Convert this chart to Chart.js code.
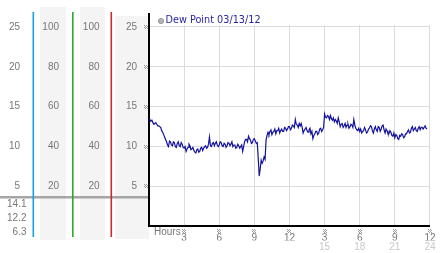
<!DOCTYPE html>
<html>
<head>
<meta charset="utf-8">
<script src="https://cdn.jsdelivr.net/npm/chart.js@4/dist/chart.umd.min.js"></script>
<style>
html, body { margin: 0; padding: 0; background: #fff; }
#wrap { width: 442px; height: 253px; }
</style>
</head>
<body>
<div id="wrap"><canvas id="dewChart" width="442" height="253"></canvas></div>
<script>
const seriesName = 'Dew Point 03/13/12';
const stepHours = 1 / 12; // one reading every 5 minutes
const dewPoint = [
    13.5, 13.3, 13.2, 13.3, 13.0, 12.8, 12.9, 13.0, 12.8, 12.6, 12.6, 12.5,
    12.4, 12.0, 11.8, 11.5, 11.2, 10.9, 10.6, 10.2, 10.0, 10.7, 10.6, 10.2,
    10.1, 10.6, 10.5, 10.0, 9.9, 10.4, 10.6, 10.1, 10.0, 10.5, 10.3, 9.9,
    9.8, 10.0, 9.4, 9.7, 9.9, 10.3, 10.1, 9.6, 9.7, 9.9, 9.5, 9.3,
    9.2, 9.6, 9.7, 9.3, 9.4, 9.8, 9.9, 9.5, 9.8, 10.0, 10.1, 9.8,
    9.9, 10.3, 11.2, 10.1, 10.0, 10.4, 10.5, 10.1, 10.4, 10.6, 10.2, 10.0,
    10.2, 10.6, 10.5, 10.1, 10.0, 10.4, 10.3, 9.9, 10.1, 10.5, 10.4, 10.1,
    10.3, 10.6, 10.0, 10.2, 10.2, 9.8, 9.9, 10.3, 10.1, 9.8, 10.0, 10.2,
    9.4, 10.0, 10.6, 10.9, 10.9, 10.6, 11.3, 11.0, 10.8, 10.4, 10.5, 10.9,
    11.0, 10.7, 10.4, 10.5, 8.5, 6.3, 7.2, 8.3, 7.9, 8.2, 8.7, 8.4,
    10.8, 11.4, 11.8, 11.5, 11.9, 12.1, 11.5, 11.8, 11.9, 12.2, 11.6, 12.0,
    12.0, 12.3, 11.7, 12.0, 12.2, 11.9, 11.9, 12.4, 12.3, 12.0, 12.2, 12.5,
    12.5, 12.1, 12.3, 12.7, 12.6, 12.4, 13.4, 12.8, 12.7, 12.4, 12.9, 12.6,
    12.9, 12.4, 11.7, 12.0, 12.2, 12.4, 12.0, 11.8, 12.1, 12.3, 11.6, 11.9,
    11.0, 11.4, 11.6, 11.9, 11.9, 11.5, 11.7, 12.2, 12.3, 11.9, 12.1, 12.4,
    14.1, 13.7, 13.6, 13.9, 13.8, 13.4, 13.9, 13.5, 13.3, 13.6, 13.1, 13.4,
    13.2, 12.9, 13.6, 13.1, 12.5, 12.8, 12.9, 12.4, 12.6, 12.9, 12.4, 12.7,
    12.8, 12.3, 12.5, 12.8, 12.7, 12.4, 13.4, 12.7, 12.3, 12.1, 12.0, 12.3,
    11.9, 12.2, 11.7, 11.9, 12.0, 12.4, 12.1, 11.7, 11.8, 12.2, 12.3, 12.6,
    12.5, 12.0, 11.7, 12.2, 12.5, 12.1, 11.9, 12.5, 12.4, 11.9, 12.2, 12.6,
    12.7, 12.1, 11.7, 12.2, 12.0, 11.6, 11.6, 12.0, 11.8, 11.4, 11.3, 11.7,
    11.1, 11.5, 11.4, 11.0, 10.9, 11.4, 11.3, 11.6, 11.5, 11.1, 11.2, 11.6,
    11.6, 11.9, 12.1, 11.7, 11.8, 12.3, 12.5, 12.0, 12.2, 12.4, 12.0, 11.9,
    12.3, 12.5, 12.1, 12.4, 12.4, 12.2, 12.4, 12.6, 12.3, 12.2
];
const hourTicks = [3, 6, 9, 12, 15, 18, 21, 24];
const dewTicks = [5, 10, 15, 20, 25];
const humidityTicks = [20, 40, 60, 80, 100];
const summaryLabels = ['14.1', '12.2', '6.3'];

const tickFont = { family: 'Liberation Sans', size: 10 };
const tickColor = '#777777';

const points = dewPoint.map((v, i) => ({ x: i * stepHours, y: v }));

function fixedTicks(list) {
    return scale => { scale.ticks = list.map(v => ({ value: v })); };
}

// side column (extra left axis) with only labels
function sideAxis(weight, width, padding, list, min, max) {
    return {
        position: 'left',
        weight: weight,
        min: min,
        max: max,
        afterBuildTicks: fixedTicks(list),
        afterFit: s => { s.width = width; },
        ticks: { padding: padding, color: tickColor, font: tickFont, callback: v => String(v) },
        grid: { display: false, drawTicks: false },
        border: { display: false }
    };
}

// tiny dotted tick marker
function marker(ctx, cx, cy) {
    const x = Math.round(cx) - 2, y = Math.round(cy) - 2;
    [[0, 0], [2, 0], [1, 1], [3, 1], [0, 2], [2, 2], [1, 3], [3, 3]].forEach(([dx, dy]) => {
        ctx.fillRect(x + dx, y + dy, 1, 1);
    });
}

// left panel, markers and legend
const panelPlugin = {
    id: 'panel',
    beforeDraw(chart) {
        const ctx = chart.ctx;
        ctx.save();
        ctx.fillStyle = '#f4f4f4';
        ctx.fillRect(40, 7, 26, 233);
        ctx.fillRect(80, 7, 25, 233);
        ctx.fillRect(115, 16, 34, 223);

        ctx.fillStyle = 'rgba(150,150,150,0.85)';
        ctx.fillRect(0, 196, 149, 2.5);

        ctx.fillStyle = tickColor;
        ctx.font = '10px "Liberation Sans"';
        ctx.textAlign = 'right';
        ctx.textBaseline = 'middle';
        summaryLabels.forEach((t, i) => ctx.fillText(t, 26.5, 204.5 + i * 14));
        ctx.restore();
    },
    afterDraw(chart) {
        const ctx = chart.ctx;
        const area = chart.chartArea;
        const x = chart.scales.x;
        const y = chart.scales.y;
        ctx.save();
        // coloured column dividers
        [['#1aa0e0', 32.5], ['#2eaa2e', 72], ['#cc2a2a', 110.5]].forEach(([c, lx]) => {
            ctx.fillStyle = c;
            ctx.fillRect(lx, 12, 1.6, 225);
        });

        // axis line continues above the plot
        ctx.fillStyle = '#000';
        ctx.fillRect(area.left - 1, 13, 2, area.top - 13);

        ctx.fillStyle = '#9c9c9c';
        dewTicks.forEach(v => marker(ctx, 146, y.getPixelForValue(v)));
        hourTicks.forEach(v => marker(ctx, x.getPixelForValue(v), 231));

        ctx.fillStyle = tickColor;
        ctx.font = '10px "Liberation Sans"';
        ctx.textAlign = 'left';
        ctx.textBaseline = 'middle';
        ctx.fillText('Hours', 154, 232.5);

        // legend
        ctx.beginPath();
        ctx.arc(161, 21, 2.6, 0, Math.PI * 2);
        ctx.fillStyle = '#b4b4b4';
        ctx.fill();
        ctx.strokeStyle = '#8a8a8a';
        ctx.lineWidth = 0.8;
        ctx.stroke();
        ctx.fillStyle = '#2626a0';
        ctx.font = '9.7px "DejaVu Sans"';
        ctx.fillText(seriesName, 165.5, 20.5);
        ctx.restore();
    }
};

new Chart(document.getElementById('dewChart'), {
    type: 'line',
    data: {
        datasets: [{
            label: seriesName,
            data: points,
            borderColor: '#12129e',
            borderWidth: 1.2,
            pointRadius: 0,
            fill: false,
            tension: 0
        }]
    },
    options: {
        responsive: false,
        animation: false,
        layout: { padding: { top: 25, right: 2, left: 0, bottom: 0 } },
        plugins: { legend: { display: false }, tooltip: { enabled: false } },
        scales: {
            x: {
                type: 'linear',
                min: 0,
                max: 24,
                weight: 0,
                afterBuildTicks: fixedTicks(hourTicks),
                afterFit: s => { s.height = 15; },
                ticks: { padding: 6.5, color: tickColor, font: tickFont, maxRotation: 0, autoSkip: false,
                    callback: v => String(v % 12 || 12) },
                grid: { color: '#dcdcdc', drawTicks: false },
                border: { color: '#000', width: 2 }
            },
            x2: {
                type: 'linear',
                position: 'bottom',
                min: 0,
                max: 24,
                weight: 1,
                afterBuildTicks: fixedTicks(hourTicks),
                afterFit: s => { s.height = 12.5; },
                ticks: { padding: 0.5, color: '#c8c8c8', font: tickFont, maxRotation: 0, autoSkip: false,
                    callback: v => (v > 12 ? String(v) : '') },
                grid: { display: false, drawTicks: false },
                border: { display: false }
            },
            y: {
                position: 'left',
                weight: 0,
                min: 0.1,
                max: 25.25,
                afterBuildTicks: fixedTicks(dewTicks),
                afterFit: s => { s.width = 38; },
                ticks: { padding: 12, color: tickColor, font: tickFont, callback: v => String(v) },
                grid: { color: '#dcdcdc', drawTicks: false },
                border: { color: '#000', width: 2 }
            },
            yRh2: sideAxis(1, 39, 11.5, humidityTicks, 0.4, 101),
            yRh1: sideAxis(2, 39, 13, humidityTicks, 0.4, 101),
            yDew: sideAxis(3, 33, 13, dewTicks, 0.1, 25.25)
        }
    },
    plugins: [panelPlugin]
});
</script>
</body>
</html>
